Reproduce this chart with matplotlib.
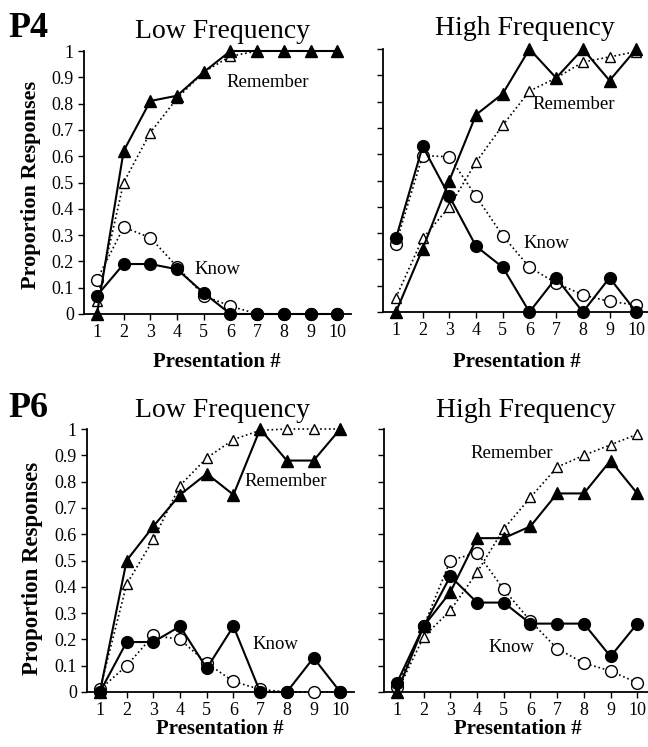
import matplotlib
matplotlib.use("Agg")
import matplotlib.pyplot as plt

W, H = 648, 747
FONT = "Liberation Serif"
plt.rcParams['font.family'] = [FONT, 'DejaVu Serif']

presentation = list(range(1, 11))
y_ticks = [0, 0.1, 0.2, 0.3, 0.4, 0.5, 0.6, 0.7, 0.8, 0.9, 1.0]
y_tick_labels = ["0", "0.1", "0.2", "0.3", "0.4", "0.5", "0.6", "0.7", "0.8", "0.9", "1"]

# P4, Low Frequency
p4_lf_rem_filled = [0.00, 0.62, 0.81, 0.83, 0.92, 1.00, 1.00, 1.00, 1.00, 1.00]
p4_lf_rem_open   = [0.05, 0.50, 0.69, 0.82, 0.92, 0.98, 1.00, 1.00, 1.00, 1.00]
p4_lf_know_filled = [0.07, 0.19, 0.19, 0.17, 0.08, 0.00, 0.00, 0.00, 0.00, 0.00]
p4_lf_know_open   = [0.13, 0.33, 0.29, 0.18, 0.07, 0.03, 0.00, 0.00, 0.00, 0.00]

# P4, High Frequency
p4_hf_rem_filled = [0.00, 0.24, 0.50, 0.75, 0.83, 1.00, 0.89, 1.00, 0.88, 1.00]
p4_hf_rem_open   = [0.055, 0.28, 0.40, 0.57, 0.71, 0.84, 0.89, 0.95, 0.97, 0.99]
p4_hf_know_filled = [0.28, 0.63, 0.44, 0.25, 0.17, 0.00, 0.13, 0.00, 0.13, 0.00]
p4_hf_know_open   = [0.26, 0.595, 0.59, 0.44, 0.29, 0.17, 0.11, 0.065, 0.04, 0.027]

# P6, Low Frequency
p6_lf_rem_filled = [0.00, 0.50, 0.63, 0.75, 0.83, 0.75, 1.00, 0.88, 0.88, 1.00]
p6_lf_rem_open   = [0.01, 0.41, 0.58, 0.785, 0.89, 0.96, 0.995, 1.00, 1.00, 1.00]
p6_lf_know_filled = [0.00, 0.19, 0.19, 0.25, 0.09, 0.25, 0.00, 0.00, 0.13, 0.00]
p6_lf_know_open   = [0.01, 0.10, 0.215, 0.20, 0.11, 0.04, 0.01, 0.00, 0.00, 0.00]

# P6, High Frequency
p6_hf_rem_filled = [0.00, 0.25, 0.38, 0.585, 0.585, 0.63, 0.755, 0.755, 0.88, 0.755]
p6_hf_rem_open   = [0.00, 0.21, 0.31, 0.455, 0.62, 0.74, 0.855, 0.90, 0.94, 0.98]
p6_hf_know_filled = [0.035, 0.25, 0.44, 0.34, 0.34, 0.26, 0.26, 0.26, 0.135, 0.26]
p6_hf_know_open   = [0.02, 0.25, 0.50, 0.53, 0.39, 0.27, 0.165, 0.11, 0.08, 0.035]

panels = [
    (83.6, 51, (p4_lf_rem_filled, p4_lf_rem_open, p4_lf_know_filled, p4_lf_know_open),
     (5.85, 0.88), (4.66, 0.17), True),
    (382.6, 49, (p4_hf_rem_filled, p4_hf_rem_open, p4_hf_know_filled, p4_hf_know_open),
     (6.13, 0.79), (5.76, 0.26), False),
    (86.6, 429, (p6_lf_rem_filled, p6_lf_rem_open, p6_lf_know_filled, p6_lf_know_open),
     (6.43, 0.80), (6.73, 0.18), True),
    (383.6, 429, (p6_hf_rem_filled, p6_hf_rem_open, p6_hf_know_filled, p6_hf_know_open),
     (3.77, 0.905), (4.41, 0.17), False),
]

fig = plt.figure(figsize=(W / 100, H / 100), dpi=100)
ax_w, ax_h = 267, 263

for left, top, series, rem_pos, know_pos, show_ylabels in panels:
    ax = fig.add_axes([left / W, 1 - (top + ax_h) / H, ax_w / W, ax_h / H])
    rf, ro, kf, ko = series
    mk = 8.5
    ax.plot(presentation, ro, linestyle=':', color='black', lw=1.2, marker='^',
            markersize=mk - 1, markerfacecolor='white', markeredgecolor='black',
            markeredgewidth=1.0, clip_on=False, zorder=3)
    ax.plot(presentation, ko, linestyle=':', color='black', lw=1.2, marker='o',
            markersize=mk, markerfacecolor='white', markeredgecolor='black',
            markeredgewidth=1.0, clip_on=False, zorder=3)
    ax.plot(presentation, rf, linestyle='-', color='black', lw=1.5, marker='^',
            markersize=mk, markerfacecolor='black', markeredgecolor='black',
            clip_on=False, zorder=4)
    ax.plot(presentation, kf, linestyle='-', color='black', lw=1.5, marker='o',
            markersize=mk, markerfacecolor='black', markeredgecolor='black',
            clip_on=False, zorder=4)
    ax.set_xlim(0.5, 10.5)
    ax.set_ylim(0, 1.0)
    ax.set_xticks(presentation)
    ax.set_xticklabels([str(p) for p in presentation], fontsize=13)
    ax.set_yticks(y_ticks)
    if show_ylabels:
        ax.set_yticklabels(y_tick_labels, fontsize=13)
    else:
        ax.set_yticklabels([])
    for s in ['top', 'right']:
        ax.spines[s].set_visible(False)
    for s in ['left', 'bottom']:
        ax.spines[s].set_linewidth(1.3)
    ax.tick_params(axis='both', direction='out', length=4, width=1.0, pad=3)
    ax.patch.set_alpha(0)
    ax.text(rem_pos[0], rem_pos[1], "Remember", fontsize=13.5, ha='left', va='center')
    ax.text(know_pos[0], know_pos[1], "Know", fontsize=13.5, ha='left', va='center')

def ftext(x, y, s, **kw):
    fig.text(x / W, 1 - y / H, s, **kw)

ftext(8, 37, "P4", fontsize=26, fontweight='bold', va='baseline', ha='left')
ftext(8, 417, "P6", fontsize=26, fontweight='bold', va='baseline', ha='left')
ftext(223, 38, "Low Frequency", fontsize=20, va='baseline', ha='center')
ftext(525, 35, "High Frequency", fontsize=20, va='baseline', ha='center')
ftext(223, 417, "Low Frequency", fontsize=20, va='baseline', ha='center')
ftext(526, 417, "High Frequency", fontsize=20, va='baseline', ha='center')
ftext(31, 185, "Proportion Responses", fontsize=16, fontweight='bold',
      rotation=90, va='center', ha='center')
ftext(33, 568, "Proportion Responses", fontsize=16.5, fontweight='bold',
      rotation=90, va='center', ha='center')
for x, y in [(217, 362), (517, 362), (220, 729), (518, 729)]:
    ftext(x, y, "Presentation #", fontsize=15, fontweight='bold', va='center', ha='center')

fig.savefig("out.png", dpi=100)
